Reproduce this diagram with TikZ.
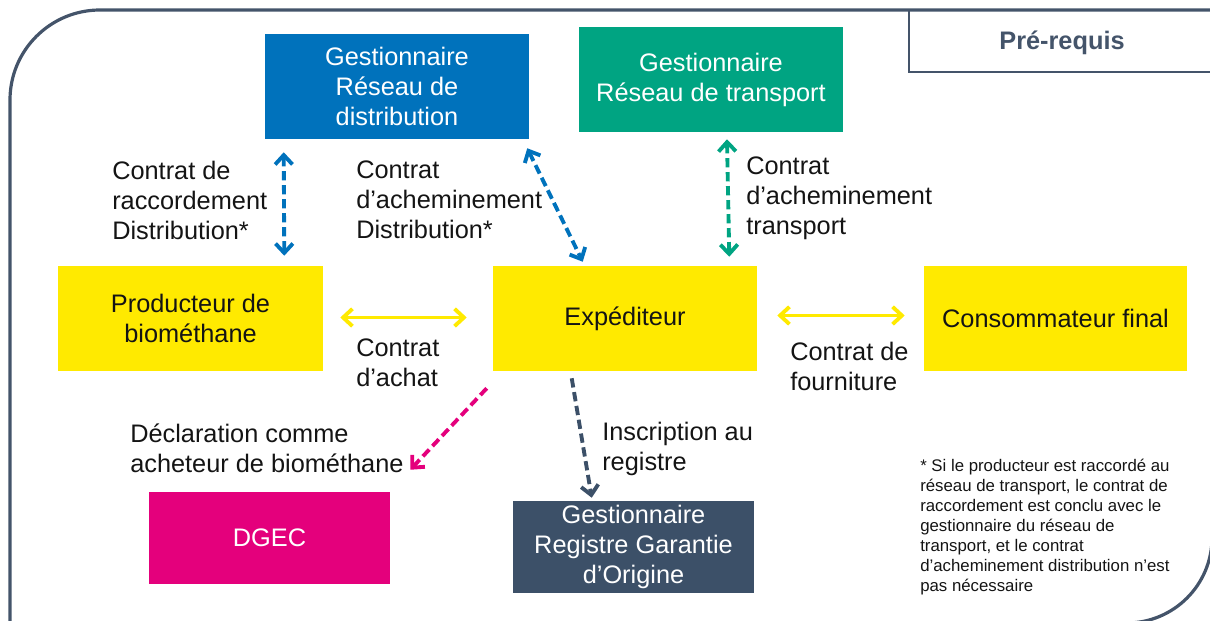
\documentclass[tikz,border=0pt]{standalone}
\usepackage{fontspec}
\setmainfont{Liberation Sans}
\usetikzlibrary{arrows.meta,calc}
\definecolor{frameC}{RGB}{68,84,106}
\definecolor{blueC}{RGB}{0,114,188}
\definecolor{tealC}{RGB}{0,164,130}
\definecolor{yellowC}{RGB}{255,234,0}
\definecolor{magC}{RGB}{228,0,124}
\definecolor{slateC}{RGB}{60,80,104}
\definecolor{txtC}{RGB}{20,20,20}
\tikzset{
  box/.style={inner sep=0pt, align=center, minimum width=198pt, minimum height=78.75pt,
              font=\fontsize{19}{22.5}\selectfont},
  smallbox/.style={box, minimum width=180.75pt, minimum height=69pt},
  lbl/.style={anchor=west, inner sep=0pt, align=left, text=txtC,
              font=\fontsize{19}{22.5}\selectfont},
  conn/.style={line width=2.9pt, arrows={Straight Barb[length=7pt,width=13pt]-Straight Barb[length=7pt,width=13pt]}},
  dconn/.style={conn, dash pattern=on 7pt off 3.5pt},
  oneway/.style={line width=2.9pt, dash pattern=on 7pt off 3.5pt, arrows={-Straight Barb[length=7pt,width=13pt]}}
}
\begin{document}
\begin{tikzpicture}[x=0.75pt,y=-0.75pt]
\useasboundingbox (0,0) rectangle (1210,621);
% frame
\draw[frameC, line width=2.4pt, rounded corners=67.5pt] (10,700) -- (10,10) -- (1300,10);
\draw[frameC, line width=2.4pt, rounded corners=64pt] (1212,300) -- (1212,623) -- (900,623);
% Pre-requis tab
\draw[frameC, line width=2.2pt] (909,10) -- (909,72) -- (1215,72);
\node[text=frameC, font=\fontsize{19}{22}\selectfont\bfseries] (prereq) at (1062,43) {Pré-requis};

% boxes
\node[box, fill=blueC, text=white] (dist) at (397,86.5) {Gestionnaire\\Réseau de\\distribution};
\node[box, fill=tealC, text=white] (trans) at (711,79.5) {Gestionnaire\\Réseau de transport};
\node[box, fill=yellowC, text=txtC, minimum width=198.75pt] (prod) at (190.5,318.5) {Producteur de\\biométhane};
\node[box, fill=yellowC, text=txtC] (exp) at (625,318.5) {Expéditeur};
\node[box, fill=yellowC, text=txtC, minimum width=197.25pt] (cons) at (1055.5,318.5) {Consommateur final};
\node[smallbox, fill=magC, text=white] (dgec) at (269.5,538) {DGEC};
\node[smallbox, fill=slateC, text=white] (reg) at (633.5,547) {Gestionnaire\\Registre Garantie\\d’Origine};

% labels
\node[lbl] (l1) at (112,200) {Contrat de\\raccordement\\Distribution*};
\node[lbl] (l2) at (356,200) {Contrat\\d’acheminement\\Distribution*};
\node[lbl] (l3) at (746,198) {Contrat\\d’acheminement\\transport};
\node[lbl] (l4) at (356,363) {Contrat\\d’achat};
\node[lbl] (l5) at (790,366) {Contrat de\\fourniture};
\node[lbl] (l6) at (130,448) {Déclaration comme\\acheteur de biométhane};
\node[lbl] (l7) at (602,449) {Inscription au\\registre};
\node[lbl, font=\fontsize{12.6}{15}\selectfont] (note) at (920,527)
  {* Si le producteur est raccordé au\\réseau de transport, le contrat de\\raccordement est conclu avec le\\gestionnaire du réseau de\\transport, et le contrat\\d’acheminement distribution n’est\\pas nécessaire};

% connectors
\draw[dconn, blueC] ($(dist.south west)+(19,13)$) -- ($(prod.north east)+(-39,-10)$);
\draw[dconn, blueC] ($(dist.south east)+(-2,9)$) -- ($(exp.north west)+(90,-4)$);
\draw[dconn, tealC] ($(trans.south)+(16,7)$) -- ($(exp.north east)+(-28,-9)$);
\draw[conn, yellowC] ($(prod.east)+(17,-1)$) -- ($(exp.west)+(-26,-1)$);
\draw[conn, yellowC] ($(exp.east)+(20,-3)$) -- ($(cons.west)+(-19,-3)$);
\draw[oneway, magC] ($(exp.south west)+(-6,17)$) -- ($(dgec.north east)+(20,-22)$);
\draw[oneway, slateC] ($(exp.south west)+(79,7)$) -- ($(reg.north west)+(79,-3)$);
\end{tikzpicture}
\end{document}
